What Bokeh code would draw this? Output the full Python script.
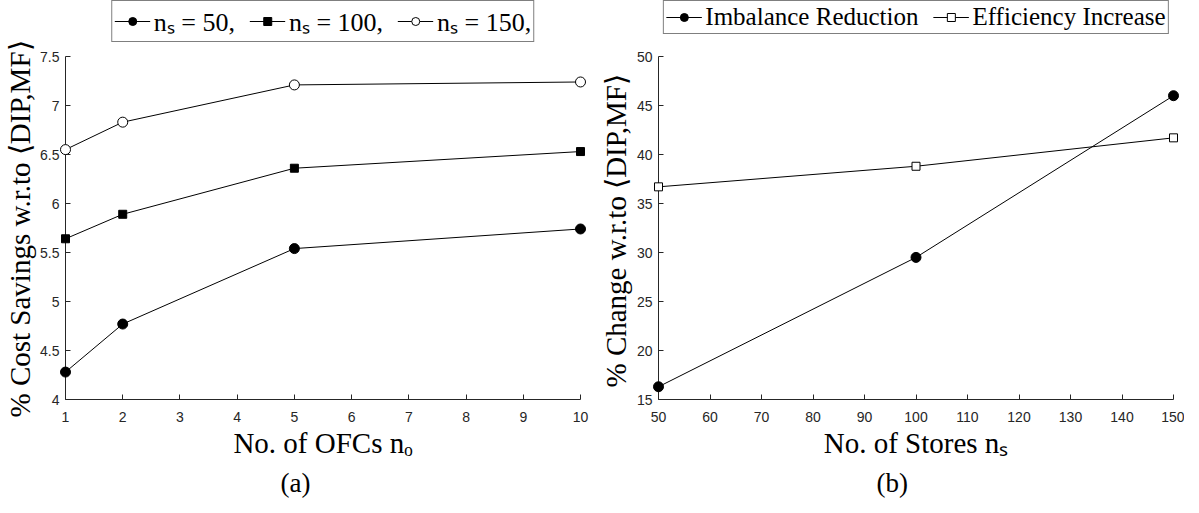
from bokeh.plotting import figure
from bokeh.models import (Legend, LegendItem, FixedTicker, NumeralTickFormatter,
                          Title, Range1d)
from bokeh.layouts import row
from bokeh.embed import file_html
from bokeh.resources import INLINE

# ---- data (a) ----
ofcs = [1, 2, 5, 10]
savings_ns50 = [4.28, 4.77, 5.54, 5.74]
savings_ns100 = [5.64, 5.89, 6.36, 6.53]
savings_ns150 = [6.55, 6.83, 7.21, 7.24]
xticks_a = [1, 2, 3, 4, 5, 6, 7, 8, 9, 10]
yticks_a = [4, 4.5, 5, 5.5, 6, 6.5, 7, 7.5]

# ---- data (b) ----
stores = [50, 100, 150]
imbalance_reduction = [16.3, 29.5, 46.0]
efficiency_increase = [36.7, 38.8, 41.7]
xticks_b = [50, 60, 70, 80, 90, 100, 110, 120, 130, 140, 150]
yticks_b = [15, 20, 25, 30, 35, 40, 45, 50]

AX = "#262626"
SERIF = "Liberation Serif"
SANS = "Liberation Sans"

FRAME_W = 515
FRAME_H = 399      # frame reaches the top so the legend can sit inside it
AXIS_H = 343       # pixel height of the drawn y-axis span


def make_fig(xr, yr, xticks, yticks, xlabel, ylabel, ylab_off, left, right,
             caption, cap_off):
    y0, y1 = yr
    y_top = y0 + (y1 - y0) * FRAME_H / AXIS_H
    p = figure(frame_width=FRAME_W, frame_height=FRAME_H,
               x_range=Range1d(*xr), y_range=Range1d(y0, y_top),
               output_backend="svg", toolbar_location=None,
               min_border_left=left, min_border_right=right,
               min_border_top=0, min_border_bottom=98)
    p.outline_line_color = None
    p.grid.visible = False
    p.background_fill_color = "white"
    p.border_fill_color = "white"
    p.xaxis.ticker = FixedTicker(ticks=xticks)
    p.yaxis.ticker = FixedTicker(ticks=yticks)
    p.yaxis.formatter = NumeralTickFormatter(format="0.[0]")
    p.yaxis.bounds = (y0, y1)
    for ax in (p.xaxis[0], p.yaxis[0]):
        ax.axis_line_color = AX
        ax.axis_line_width = 1
        ax.major_tick_line_color = AX
        ax.major_tick_in = 5
        ax.major_tick_out = 0
        ax.minor_tick_line_color = None
        ax.major_label_text_font = SANS
        ax.major_label_text_font_size = "14px"
        ax.major_label_text_color = AX
        ax.axis_label_text_font = SERIF
        ax.axis_label_text_font_size = "29px"
        ax.axis_label_text_font_style = "normal"
        ax.axis_label_text_color = "black"
    p.xaxis.axis_label = xlabel
    p.xaxis.major_label_standoff = 12
    p.xaxis.axis_label_standoff = 2
    p.yaxis.major_label_standoff = 6
    # y label as a left-side title, positioned along the drawn axis span
    ylab = Title(text=ylabel, align="left", text_font=SERIF,
                 text_font_size="29px", text_font_style="normal",
                 text_color="black", offset=ylab_off, standoff=3)
    p.add_layout(ylab, "left")
    cap = Title(text=caption, align="left", text_font=SERIF,
                text_font_size="27px", text_font_style="normal",
                text_color="black", offset=cap_off, standoff=8)
    p.add_layout(cap, "below")
    return p


def add_legend(p, items, size, spacing):
    leg = Legend(items=items, orientation="horizontal", location="top_center",
                 border_line_color="black", border_line_width=1,
                 label_text_font=SERIF, label_text_font_size=size,
                 label_text_color="black",
                 glyph_width=36, glyph_height=20, label_height=20,
                 label_standoff=4, spacing=spacing, padding=2, margin=0,
                 background_fill_color="white")
    p.add_layout(leg, "center")


# ---- figure (a) ----
pa = make_fig((1, 10), (4, 7.5), xticks_a, yticks_a,
              "No. of OFCs nₒ", "% Cost Savings w.r.to ⟨DIP,MF⟩", -18,
              64, 14, "(a)", 215)
l1 = pa.line(ofcs, savings_ns50, line_color="black", line_width=1, level="overlay")
s1 = pa.scatter(ofcs, savings_ns50, marker="circle", size=10, fill_color="black",
                line_color="black", level="overlay")
l2 = pa.line(ofcs, savings_ns100, line_color="black", line_width=1, level="overlay")
s2 = pa.scatter(ofcs, savings_ns100, marker="square", size=8, fill_color="black",
                line_color="black", level="overlay")
l3 = pa.line(ofcs, savings_ns150, line_color="black", line_width=1, level="overlay")
s3 = pa.scatter(ofcs, savings_ns150, marker="circle", size=10, fill_color="white",
                line_color="black", level="overlay")
add_legend(pa, [LegendItem(label="nₛ = 50,", renderers=[l1, s1]),
                LegendItem(label="nₛ = 100,", renderers=[l2, s2]),
                LegendItem(label="nₛ = 150,", renderers=[l3, s3])], "26px", 14)

# ---- figure (b) ----
pb = make_fig((50, 150), (15, 50), xticks_b, yticks_b,
              "No. of Stores nₛ", "% Change w.r.to ⟨DIP,MF⟩", 12,
              64, 11, "(b)", 218)
m1 = pb.line(stores, imbalance_reduction, line_color="black", line_width=1, level="overlay")
n1 = pb.scatter(stores, imbalance_reduction, marker="circle", size=10, fill_color="black",
                line_color="black", level="overlay")
m2 = pb.line(stores, efficiency_increase, line_color="black", line_width=1, level="overlay")
n2 = pb.scatter(stores, efficiency_increase, marker="square", size=8, fill_color="white",
                line_color="black", level="overlay")
add_legend(pb, [LegendItem(label="Imbalance Reduction", renderers=[m1, n1]),
                LegendItem(label="Efficiency Increase", renderers=[m2, n2])], "25px", 14)

layout = row(pa, pb)
open("out.html", "w").write(file_html(layout, INLINE))
